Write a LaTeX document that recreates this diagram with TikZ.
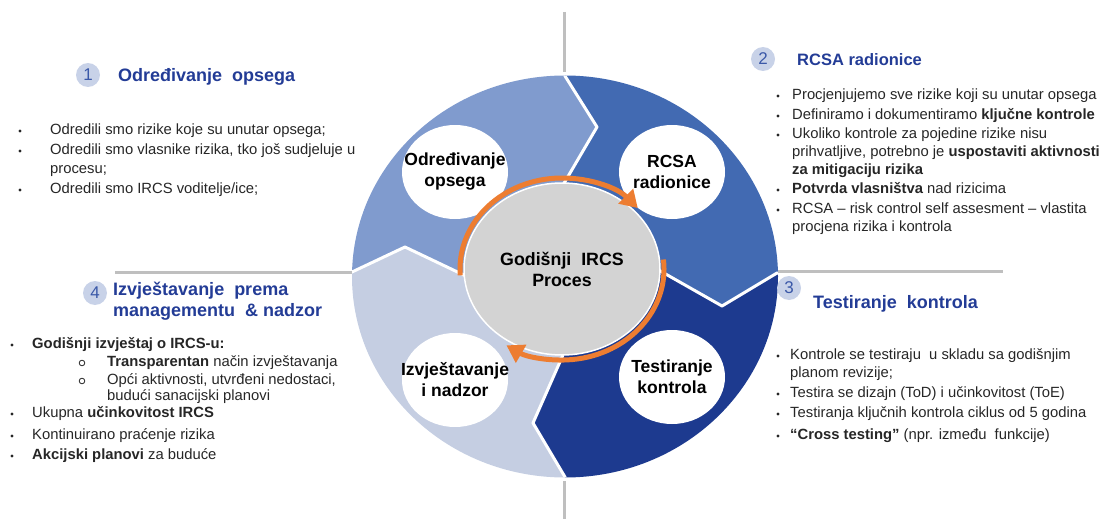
\documentclass[tikz,border=0pt]{standalone}
\usepackage{fontspec}
\setmainfont{Liberation Sans}
\usetikzlibrary{arrows.meta,shapes.geometric}

\definecolor{segA}{HTML}{809BCE}
\definecolor{segB}{HTML}{426AB2}
\definecolor{segC}{HTML}{1D3A8F}
\definecolor{segD}{HTML}{C5CEE2}
\definecolor{hubgray}{HTML}{D3D3D3}
\definecolor{arcorange}{HTML}{ED7D31}
\definecolor{headblue}{HTML}{233C96}
\definecolor{numfill}{HTML}{C8D2E8}
\definecolor{numblue}{HTML}{3A58A8}
\definecolor{txt}{HTML}{262626}
\definecolor{rulegray}{HTML}{BFBFBF}

\tikzset{
  body/.style={anchor=west,inner sep=0pt,text height=11pt,text depth=3.2pt,
    text=txt,font=\fontsize{14.8}{17}\selectfont},
  head/.style={anchor=west,inner sep=0pt,text=headblue,
    font=\fontsize{18}{21}\selectfont\bfseries},
  num/.style={circle,fill=numfill,inner sep=0pt,minimum size=24pt,text=numblue,
    font=\fontsize{17}{19}\selectfont},
  stage/.style={align=center,inner sep=0pt,text=black,
    font=\fontsize{17.5}{21}\selectfont\bfseries},
  hub/.style={ellipse,fill=hubgray,draw=white,line width=1.5pt,
    minimum width=196pt,minimum height=172pt,align=center,
    font=\fontsize{17.8}{21}\selectfont\bfseries},
  loop/.style={arcorange,line width=5pt,-{Triangle[length=17pt,width=20pt]}},
  rule/.style={rulegray,line width=3pt},
  dot/.style={fill=txt},
}

\begin{document}
\begin{tikzpicture}[x=1pt,y=-1pt]
  \useasboundingbox (0,0) rectangle (1104,519);

  % gray rules
  \draw[rule] (564,12)--(564,72);
  \draw[rule] (564,481)--(564,519);
  \draw[rule] (115,272)--(352,272);
  \draw[rule] (777,271)--(1003,271);

  % ring of four chevrons
  \begin{scope}
    \clip (565,276.5) ellipse [x radius=213,y radius=201];
    \fill[segA] (330,272)--(352,272)--(405,247)--(468,277)--(563,268)--(563,185)
      --(597,127)--(565,76)--(565,40)--(330,40)--cycle;
    \fill[segB] (565,40)--(565,76)--(597,127)--(563,185)--(563,268)--(655,268)
      --(722,306)--(777,273)--(800,273)--(800,40)--cycle;
    \fill[segC] (800,273)--(777,273)--(722,306)--(655,268)--(563,268)--(563,355)
      --(533,423)--(565,477)--(565,510)--(800,510)--cycle;
    \fill[segD] (565,510)--(565,477)--(533,423)--(563,355)--(563,268)--(468,277)
      --(405,247)--(352,272)--(330,272)--(330,510)--cycle;
    \draw[white,line width=3pt,line join=round]
      (565,40)--(565,76)--(597,127)--(563,185)
      (800,273)--(777,273)--(722,306)--(655,268)
      (565,510)--(565,477)--(533,423)--(563,355)
      (330,272)--(352,272)--(405,247)--(468,277);
  \end{scope}

  % hub and stages
  \node[hub] (hub) at (562,269) {Godišnji\ \ IRCS\\Proces};
  \foreach \p/\n/\t in {{455,172}/opseg/{Određivanje\\opsega},
                        {672,172}/rcsa/{RCSA\\radionice},
                        {672,377}/test/{Testiranje\\kontrola},
                        {455,380}/izvj/{Izvještavanje\\i nadzor}}
  {
    \fill[white] (\p) ellipse [x radius=53,y radius=47];
    \node[stage] (\n) at (\p) {\t};
  }
  \draw[loop] (hub.center) ++(176:102 and 91)
    arc[start angle=176,end angle=318,x radius=102,y radius=91];
  \draw[loop] (hub.center) ++(-6:102 and 91)
    arc[start angle=-6,end angle=123,x radius=102,y radius=91];

  % 1
  \node[num] (n1) at (88,75) {1};
  \node[head] (t1) at (118,77) {Određivanje\ \ opsega};
  \foreach \y in {131,151,190} \fill[dot] (20,\y) circle (1.7);
  \foreach \y/\t [count=\i] in {131/{Odredili smo rizike koje su unutar opsega;},
      151/{Odredili smo vlasnike rizika, tko još sudjeluje u},
      170/{procesu;},
      190/{Odredili smo IRCS voditelje/ice;}}
    \node[body] (a\i) at (50,\y) {\t};

  % 2
  \node[num] (n2) at (763,59) {2};
  \node[head,font=\fontsize{16.5}{19}\selectfont\bfseries] (t2) at (797,60) {RCSA radionice};
  \foreach \y in {96,116,135,190,210} \fill[dot] (778,\y) circle (1.7);
  \foreach \y/\t [count=\i] in {96/{Procjenjujemo sve rizike koji su unutar opsega},
      116/{Definiramo i dokumentiramo \textbf{ključne kontrole}},
      135/{Ukoliko kontrole za pojedine rizike nisu},
      153/{prihvatljive, potrebno je \textbf{uspostaviti aktivnosti}},
      171/{\textbf{za mitigaciju rizika}},
      190/{\textbf{Potvrda vlasništva} nad rizicima},
      210/{RCSA – risk control self assesment – vlastita},
      228/{procjena rizika i kontrola}}
    \node[body] (b\i) at (792,\y) {\t};

  % 3
  \node[num] (n3) at (789,288) {3};
  \node[head] (t3) at (813,304) {Testiranje\ \ kontrola};
  \foreach \y in {356,394,414,436} \fill[dot] (778,\y) circle (1.7);
  \foreach \y/\t [count=\i] in {356/{Kontrole se testiraju\ \ u skladu sa godišnjim},
      374/{planom revizije;},
      394/{Testira se dizajn (ToD) i učinkovitost (ToE)},
      414/{Testiranja ključnih kontrola ciklus od 5 godina},
      436/{\textbf{“Cross testing”} (npr. između\ \ funkcije)}}
    \node[body] (c\i) at (790,\y) {\t};

  % 4
  \node[num] (n4) at (95,293) {4};
  \node[head,align=left] (t4) at (113,301) {Izvještavanje\ \ prema\\managementu\ \ \& nadzor};
  \foreach \y in {345,414,436,456} \fill[dot] (12,\y) circle (1.7);
  \foreach \y in {363,381} \draw[txt,line width=0.8pt] (82,\y) circle (2.8);
  \foreach \y/\x/\t [count=\i] in {345/32/{\textbf{Godišnji izvještaj o IRCS-u:}},
      363/107/{\textbf{Transparentan} način izvještavanja},
      381/107/{Opći aktivnosti, utvrđeni nedostaci,},
      397/107/{budući sanacijski planovi},
      414/32/{Ukupna \textbf{učinkovitost IRCS}},
      436/32/{Kontinuirano praćenje rizika},
      456/32/{\textbf{Akcijski planovi} za buduće}}
    \node[body] (d\i) at (\x,\y) {\t};
\end{tikzpicture}
\end{document}
